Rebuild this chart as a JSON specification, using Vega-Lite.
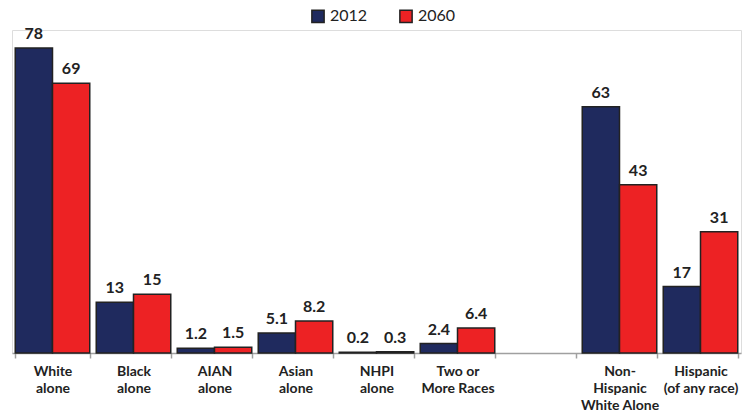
{
  "$schema": "https://vega.github.io/schema/vega-lite/v6.json",
  "autosize": "none",
  "width": 729,
  "height": 323,
  "padding": {"left": 12, "top": 30, "right": 8, "bottom": 62},
  "background": "white",
  "data": {
    "values": [
      {"group": "White|alone", "year": "2012", "pct": 78},
      {"group": "White|alone", "year": "2060", "pct": 69},
      {"group": "Black|alone", "year": "2012", "pct": 13},
      {"group": "Black|alone", "year": "2060", "pct": 15},
      {"group": "AIAN|alone", "year": "2012", "pct": 1.2},
      {"group": "AIAN|alone", "year": "2060", "pct": 1.5},
      {"group": "Asian|alone", "year": "2012", "pct": 5.1},
      {"group": "Asian|alone", "year": "2060", "pct": 8.2},
      {"group": "NHPI|alone", "year": "2012", "pct": 0.2},
      {"group": "NHPI|alone", "year": "2060", "pct": 0.3},
      {"group": "Two or|More Races", "year": "2012", "pct": 2.4},
      {"group": "Two or|More Races", "year": "2060", "pct": 6.4},
      {"group": "Non-|Hispanic|White Alone", "year": "2012", "pct": 63},
      {"group": "Non-|Hispanic|White Alone", "year": "2060", "pct": 43},
      {"group": "Hispanic|(of any race)", "year": "2012", "pct": 17},
      {"group": "Hispanic|(of any race)", "year": "2060", "pct": 31}
    ]
  },
  "encoding": {
    "x": {
      "field": "group",
      "type": "nominal",
      "title": null,
      "scale": {
        "domain": ["White|alone", "Black|alone", "AIAN|alone", "Asian|alone", "NHPI|alone", "Two or|More Races", " ", "Non-|Hispanic|White Alone", "Hispanic|(of any race)"],
        "paddingInner": 0.08,
        "paddingOuter": 0.04
      },
      "axis": {
        "labelAngle": 0,
        "labelExpr": "isValid(datum.value) ? split(datum.value, '|') : ''",
        "labelFont": "Lato",
        "labelFontWeight": "bold",
        "labelFontSize": 14,
        "labelColor": "#222222",
        "labelLineHeight": 17,
        "labelPadding": 6,
        "tickBand": "extent",
        "tickColor": "#a0a0a0",
        "tickSize": 5,
        "tickWidth": 1.5,
        "domainColor": "#a0a0a0",
        "domainWidth": 1.5
      }
    },
    "xOffset": {"field": "year", "type": "nominal", "scale": {"domain": ["2012", "2060"]}},
    "y": {
      "field": "pct",
      "type": "quantitative",
      "scale": {"domain": [0, 82.6], "nice": false},
      "axis": null
    }
  },
  "layer": [
    {
      "mark": {"type": "bar", "stroke": "#222222", "strokeWidth": 1.5},
      "encoding": {
        "color": {
          "field": "year",
          "type": "nominal",
          "scale": {"domain": ["2012", "2060"], "range": ["#1f2a5e", "#ed2224"]},
          "legend": {
            "title": null,
            "orient": "none",
            "direction": "horizontal",
            "legendX": 298,
            "legendY": -22,
            "symbolType": "square",
            "symbolSize": 150,
            "symbolStrokeColor": "#222222",
            "symbolStrokeWidth": 1.5,
            "labelFont": "Lato",
            "labelFontSize": 16,
            "labelColor": "#222222",
            "columnPadding": 28
          }
        }
      }
    },
    {
      "mark": {"type": "text", "baseline": "bottom", "dy": -6, "font": "Lato", "fontWeight": "bold", "fontSize": 16, "color": "#222222"},
      "encoding": {
        "text": {"field": "pct", "type": "nominal"}
      }
    }
  ]
}
